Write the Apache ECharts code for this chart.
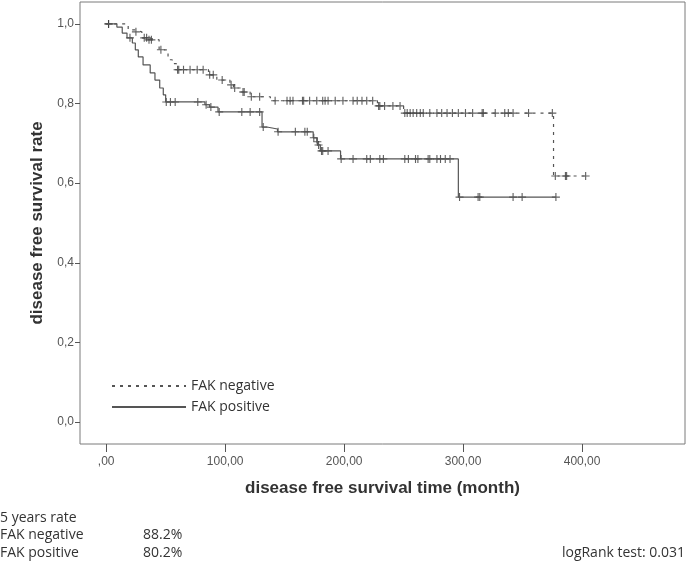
<!DOCTYPE html>
<html>
<head>
<meta charset="utf-8">
<script src="https://cdn.jsdelivr.net/npm/echarts@6/dist/echarts.min.js"></script>
<style>
html,body{margin:0;padding:0;background:#fff;}
#chart{width:687px;height:567px;}
</style>
</head>
<body>
<div id="chart"></div>
<script>
// ---- data ----
const xTicks = [0, 100, 200, 300, 400];
const yTicks = [0, 0.2, 0.4, 0.6, 0.8, 1.0];

// FAK negative: event times (months) and survival level after each event
const negEventTimes = [0, 18.5, 24, 30, 35, 44.5, 52, 55.5, 59, 86, 93, 104, 107, 114, 121, 138, 228, 250, 376];
const negSurvival   = [1.0, 0.985, 0.98, 0.965, 0.96, 0.935, 0.91, 0.9, 0.885, 0.872, 0.859, 0.847, 0.839, 0.829, 0.817, 0.807, 0.794, 0.776, 0.618];
const negLastFollowUp = 403;
const negCensored = [2, 25, 32, 34, 36, 38, 46, 60, 61, 65, 70.5, 76.5, 81.5, 87, 90, 97.5, 105, 108, 115, 116, 122, 129,
  142, 152, 154.6, 157, 165, 166, 171, 177, 182, 184, 186.5, 192.5, 199, 207.5, 211, 215, 219, 224,
  229, 230, 234, 241, 247, 251, 253, 255.5, 258, 261, 264, 266.5, 272, 278, 282, 286.5, 291, 296, 302, 308,
  316, 317, 327, 335, 338, 342, 355, 375, 377.5, 386, 387, 403];

// FAK positive
const posEventTimes = [0, 9, 13.5, 17.5, 22, 24.5, 27, 31, 37, 41, 45, 48, 50, 83, 87, 94, 131, 135, 144, 174, 177, 178, 180, 197, 296];
const posSurvival   = [1.0, 0.992, 0.977, 0.965, 0.952, 0.935, 0.917, 0.897, 0.877, 0.859, 0.839, 0.822, 0.804, 0.797, 0.791, 0.779, 0.741, 0.736, 0.729, 0.714, 0.704, 0.696, 0.681, 0.661, 0.565];
const posLastFollowUp = 378;
const posCensored = [2, 20, 50.5, 54, 58, 77, 84, 88, 95, 114, 121, 129, 132, 144.5, 159, 167, 169, 174.5, 177.5, 178.5,
  181, 182, 186.5, 197.5, 207.5, 219, 222, 230, 233, 251, 254, 260, 262, 270.6, 272, 278, 281, 285, 289,
  297, 312.6, 314, 342, 349.6, 378];

const seriesNames = ['FAK negative', 'FAK positive'];
const fiveYearRates = ['88.2%', '80.2%'];
const logRankText = 'logRank test: 0.031';

// ---- helpers ----
function curve(times, surv, last) {
  const pts = times.map((t, i) => [t, surv[i]]);
  pts.push([last, surv[surv.length - 1]]);
  return pts;
}
function levelAt(times, surv, t) {
  let s = surv[0];
  for (let i = 0; i < times.length; i++) if (times[i] <= t) s = surv[i];
  return s;
}
function censorPts(cens, times, surv) {
  return cens.map(t => [t, levelAt(times, surv, t)]);
}

const cross = 'path://M4.3,0H5.7V4.3H10V5.7H5.7V10H4.3V5.7H0V4.3H4.3Z';
const lineColor = '#555';
const markColor = '#3a3a3a';
const textFont = '14px "Open Sans"';

const chart = echarts.init(document.getElementById('chart'), null, {renderer: 'canvas'});
chart.setOption({
  animation: false,
  backgroundColor: '#fff',
  grid: {left: 80, right: 2, top: 2, bottom: 123, show: true, borderColor: '#7a7a7a', borderWidth: 1, backgroundColor: '#fff'},
  xAxis: {
    type: 'value', min: -22, max: 486.5,
    name: 'disease free survival time (month)', nameLocation: 'middle', nameGap: 36,
    nameTextStyle: {fontFamily: 'Liberation Sans', fontWeight: 'bold', fontSize: 17, color: '#333'},
    axisLine: {show: false, onZero: false},
    axisTick: {show: true, length: 8, customValues: xTicks, lineStyle: {color: '#555'}},
    axisLabel: {customValues: xTicks, margin: 12, fontFamily: 'Liberation Sans', fontSize: 12, color: '#555',
      formatter: v => (v === 0 ? ',00' : v + ',00')},
    splitLine: {show: false}
  },
  yAxis: {
    type: 'value', min: -0.055, max: 1.055,
    name: 'disease free survival rate', nameLocation: 'middle', nameGap: 34, nameRotate: 90,
    nameTextStyle: {fontFamily: 'Liberation Sans', fontWeight: 'bold', fontSize: 17, color: '#333'},
    axisLine: {show: false, onZero: false},
    axisTick: {show: true, length: 5, customValues: yTicks, lineStyle: {color: '#555'}},
    axisLabel: {customValues: yTicks, margin: 6, fontFamily: 'Liberation Sans', fontSize: 12, color: '#555',
      formatter: v => v.toFixed(1).replace('.', ',')},
    splitLine: {show: false}
  },
  legend: {
    data: seriesNames, orient: 'vertical', left: 106, top: 374, itemWidth: 74, itemHeight: 10, itemGap: 7,
    itemStyle: {opacity: 0},
    textStyle: {fontFamily: 'Open Sans', fontSize: 14, color: '#333'}, selectedMode: false
  },
  series: [
    {name: seriesNames[0], type: 'line', step: 'end', symbol: 'none', silent: true,
     data: curve(negEventTimes, negSurvival, negLastFollowUp),
     lineStyle: {color: lineColor, width: 1.2, type: [3, 5]}, itemStyle: {color: lineColor}},
    {name: seriesNames[1], type: 'line', step: 'end', symbol: 'none', silent: true,
     data: curve(posEventTimes, posSurvival, posLastFollowUp),
     lineStyle: {color: lineColor, width: 1.2, type: 'solid'}, itemStyle: {color: lineColor}},
    {name: 'neg censored', type: 'scatter', symbol: cross, symbolSize: 8, silent: true,
     data: censorPts(negCensored, negEventTimes, negSurvival), itemStyle: {color: markColor}},
    {name: 'pos censored', type: 'scatter', symbol: cross, symbolSize: 8, silent: true,
     data: censorPts(posCensored, posEventTimes, posSurvival), itemStyle: {color: markColor}}
  ],
  graphic: [
    {type: 'text', left: 0, top: 511, style: {text: '5 years rate', font: textFont, fill: '#333'}},
    {type: 'text', left: 0, top: 528, style: {text: seriesNames[0], font: textFont, fill: '#333'}},
    {type: 'text', left: 143, top: 528, style: {text: fiveYearRates[0], font: textFont, fill: '#333'}},
    {type: 'text', left: 0, top: 546, style: {text: seriesNames[1], font: textFont, fill: '#333'}},
    {type: 'text', left: 143, top: 546, style: {text: fiveYearRates[1], font: textFont, fill: '#333'}},
    {type: 'text', right: 2, top: 546, style: {text: logRankText, font: textFont, fill: '#333'}}
  ]
});
</script>
</body>
</html>
